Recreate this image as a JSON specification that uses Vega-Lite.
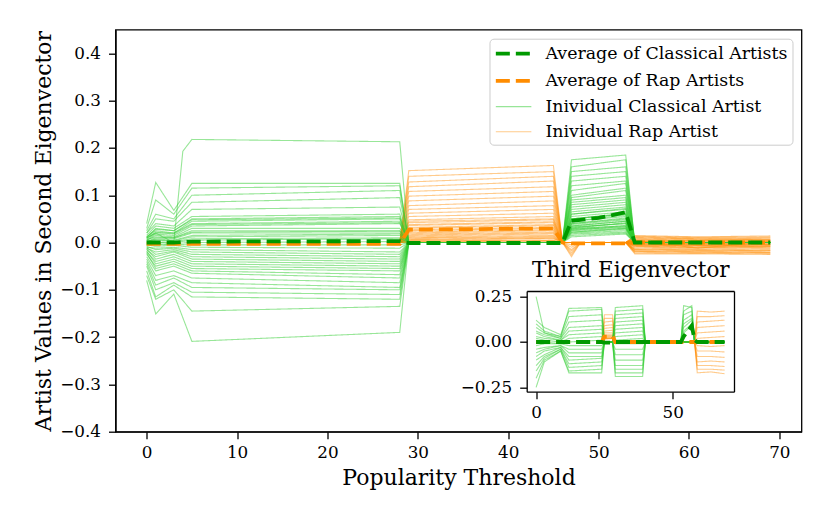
{
  "$schema": "https://vega.github.io/schema/vega-lite/v6.json",
  "autosize": "none",
  "padding": {"left": 115.5, "top": 29.7, "right": 28.3, "bottom": 91.3},
  "width": 686,
  "height": 402,
  "background": "white",
  "config": {
    "font": "DejaVu Serif",
    "view": {"stroke": "black", "strokeWidth": 1.3},
    "axis": {
      "labelFont": "DejaVu Serif", "labelFontSize": 16.8, "labelColor": "black",
      "titleFont": "DejaVu Serif", "titleFontSize": 22, "titleFontWeight": "normal", "titleColor": "black",
      "domainColor": "black", "domainWidth": 1.3, "tickColor": "black", "tickWidth": 1.3, "tickSize": 7,
      "grid": false
    }
  },
  "resolve": {
    "scale": {"x": "independent", "y": "independent"},
    "axis": {"x": "independent", "y": "independent"}
  },
  "encoding": {
    "detail": {"field": "a"},
    "color": {"field": "s", "type": "nominal",
      "scale": {"domain": ["ac", "ar", "ic", "ir"], "range": ["#009900", "#ff8c00", "#32cd32", "#ff8c00"]},
      "legend": {"title": null, "orient": "top-right", "offset": 8.6, "symbolType": "M-1,0H3.1", "symbolSize": 300, "labelFontSize": 17.4, "labelFont": "DejaVu Serif", "labelColor": "black", "labelLimit": 400, "padding": 4, "rowPadding": 7.2, "labelOffset": 30, "strokeColor": "#cccccc", "fillColor": "white", "cornerRadius": 4,
        "labelExpr": "datum.label == 'ac' ? 'Average of Classical Artists' : datum.label == 'ar' ? 'Average of Rap Artists' : datum.label == 'ic' ? 'Inividual Classical Artist' : 'Inividual Rap Artist'"}},
    "strokeDash": {"field": "s", "type": "nominal",
      "scale": {"domain": ["ac", "ar", "ic", "ir"], "range": [[14, 6], [14, 6], [1, 0], [1, 0]]},
      "legend": {"title": null, "orient": "top-right", "offset": 8.6, "symbolType": "M-1,0H3.1", "symbolSize": 300, "labelFontSize": 17.4, "labelFont": "DejaVu Serif", "labelColor": "black", "labelLimit": 400, "padding": 4, "rowPadding": 7.2, "labelOffset": 30, "strokeColor": "#cccccc", "fillColor": "white", "cornerRadius": 4,
        "labelExpr": "datum.label == 'ac' ? 'Average of Classical Artists' : datum.label == 'ar' ? 'Average of Rap Artists' : datum.label == 'ic' ? 'Inividual Classical Artist' : 'Inividual Rap Artist'"}},
    "strokeWidth": {"field": "s", "type": "nominal",
      "scale": {"type": "ordinal", "domain": ["ac", "ar", "ic", "ir"], "range": [3.8, 3.8, 1.1, 1.1]},
      "legend": {"title": null, "orient": "top-right", "offset": 8.6, "symbolType": "M-1,0H3.1", "symbolSize": 300, "labelFontSize": 17.4, "labelFont": "DejaVu Serif", "labelColor": "black", "labelLimit": 400, "padding": 4, "rowPadding": 7.2, "labelOffset": 30, "strokeColor": "#cccccc", "fillColor": "white", "cornerRadius": 4,
        "labelExpr": "datum.label == 'ac' ? 'Average of Classical Artists' : datum.label == 'ar' ? 'Average of Rap Artists' : datum.label == 'ic' ? 'Inividual Classical Artist' : 'Inividual Rap Artist'"}},
    "opacity": {"field": "s", "type": "nominal",
      "scale": {"type": "ordinal", "domain": ["ac", "ar", "ic", "ir"], "range": [1, 1, 0.5, 0.45]},
      "legend": {"title": null, "orient": "top-right", "offset": 8.6, "symbolType": "M-1,0H3.1", "symbolSize": 300, "labelFontSize": 17.4, "labelFont": "DejaVu Serif", "labelColor": "black", "labelLimit": 400, "padding": 4, "rowPadding": 7.2, "labelOffset": 30, "strokeColor": "#cccccc", "fillColor": "white", "cornerRadius": 4,
        "labelExpr": "datum.label == 'ac' ? 'Average of Classical Artists' : datum.label == 'ar' ? 'Average of Rap Artists' : datum.label == 'ic' ? 'Inividual Classical Artist' : 'Inividual Rap Artist'"}}
  },
  "datasets": {
    "m": [
      {"s":"ac","a":0,"x":0,"y":0},{"s":"ac","a":0,"x":3,"y":0},{"s":"ac","a":0,"x":5,"y":0.002},{"s":"ac","a":0,"x":28,"y":0.003},{"s":"ac","a":0,"x":29,"y":-0.001},{"s":"ac","a":0,"x":46,"y":-0.001},{"s":"ac","a":0,"x":47,"y":0.046},{"s":"ac","a":0,"x":50,"y":0.052},{"s":"ac","a":0,"x":53,"y":0.064},{"s":"ac","a":0,"x":54,"y":0},{"s":"ac","a":0,"x":69,"y":0},
      {"s":"ar","a":0,"x":0,"y":-0.003},{"s":"ar","a":0,"x":28,"y":-0.003},{"s":"ar","a":0,"x":29,"y":0.027},{"s":"ar","a":0,"x":45,"y":0.03},{"s":"ar","a":0,"x":46,"y":0},{"s":"ar","a":0,"x":47,"y":-0.002},{"s":"ar","a":0,"x":53,"y":-0.002},{"s":"ar","a":0,"x":54,"y":0},{"s":"ar","a":0,"x":69,"y":0},

      {"s":"ic","a":1,"x":0,"y":0.01},{"s":"ic","a":1,"x":1,"y":0.02},{"s":"ic","a":1,"x":3,"y":0},{"s":"ic","a":1,"x":4,"y":0.193},{"s":"ic","a":1,"x":5,"y":0.218},{"s":"ic","a":1,"x":28,"y":0.213},{"s":"ic","a":1,"x":29,"y":0},{"s":"ic","a":1,"x":46,"y":0},{"s":"ic","a":1,"x":47,"y":0.05},{"s":"ic","a":1,"x":53,"y":0.06},{"s":"ic","a":1,"x":54,"y":0},{"s":"ic","a":1,"x":69,"y":0},
      {"s":"ic","a":2,"x":0,"y":0.04},{"s":"ic","a":2,"x":1,"y":0.127},{"s":"ic","a":2,"x":3,"y":0.068},{"s":"ic","a":2,"x":5,"y":0.125},{"s":"ic","a":2,"x":28,"y":0.125},{"s":"ic","a":2,"x":29,"y":0},{"s":"ic","a":2,"x":46,"y":0},{"s":"ic","a":2,"x":47,"y":0.175},{"s":"ic","a":2,"x":53,"y":0.185},{"s":"ic","a":2,"x":54,"y":0},{"s":"ic","a":2,"x":69,"y":0},
      {"s":"ic","a":3,"x":0,"y":0.03},{"s":"ic","a":3,"x":1,"y":0.09},{"s":"ic","a":3,"x":3,"y":0.06},{"s":"ic","a":3,"x":5,"y":0.115},{"s":"ic","a":3,"x":28,"y":0.12},{"s":"ic","a":3,"x":29,"y":0},{"s":"ic","a":3,"x":46,"y":0},{"s":"ic","a":3,"x":47,"y":0.16},{"s":"ic","a":3,"x":53,"y":0.175},{"s":"ic","a":3,"x":54,"y":0},{"s":"ic","a":3,"x":69,"y":0},
      {"s":"ic","a":4,"x":0,"y":0.025},{"s":"ic","a":4,"x":1,"y":0.06},{"s":"ic","a":4,"x":3,"y":0.05},{"s":"ic","a":4,"x":5,"y":0.1},{"s":"ic","a":4,"x":28,"y":0.11},{"s":"ic","a":4,"x":29,"y":0},{"s":"ic","a":4,"x":46,"y":0},{"s":"ic","a":4,"x":47,"y":0.15},{"s":"ic","a":4,"x":53,"y":0.16},{"s":"ic","a":4,"x":54,"y":0},{"s":"ic","a":4,"x":69,"y":0},
      {"s":"ic","a":5,"x":0,"y":0.02},{"s":"ic","a":5,"x":1,"y":0.05},{"s":"ic","a":5,"x":3,"y":0.045},{"s":"ic","a":5,"x":5,"y":0.085},{"s":"ic","a":5,"x":28,"y":0.095},{"s":"ic","a":5,"x":29,"y":0},{"s":"ic","a":5,"x":46,"y":0},{"s":"ic","a":5,"x":47,"y":0.14},{"s":"ic","a":5,"x":53,"y":0.15},{"s":"ic","a":5,"x":54,"y":0},{"s":"ic","a":5,"x":69,"y":0},
      {"s":"ic","a":6,"x":0,"y":0.02},{"s":"ic","a":6,"x":1,"y":0.04},{"s":"ic","a":6,"x":3,"y":0.035},{"s":"ic","a":6,"x":5,"y":0.07},{"s":"ic","a":6,"x":28,"y":0.075},{"s":"ic","a":6,"x":29,"y":0},{"s":"ic","a":6,"x":46,"y":0},{"s":"ic","a":6,"x":47,"y":0.13},{"s":"ic","a":6,"x":53,"y":0.14},{"s":"ic","a":6,"x":54,"y":0},{"s":"ic","a":6,"x":69,"y":0},
      {"s":"ic","a":7,"x":0,"y":0.015},{"s":"ic","a":7,"x":1,"y":0.035},{"s":"ic","a":7,"x":3,"y":0.03},{"s":"ic","a":7,"x":5,"y":0.055},{"s":"ic","a":7,"x":28,"y":0.06},{"s":"ic","a":7,"x":29,"y":0},{"s":"ic","a":7,"x":46,"y":0},{"s":"ic","a":7,"x":47,"y":0.12},{"s":"ic","a":7,"x":53,"y":0.13},{"s":"ic","a":7,"x":54,"y":0},{"s":"ic","a":7,"x":69,"y":0},
      {"s":"ic","a":8,"x":0,"y":0.01},{"s":"ic","a":8,"x":1,"y":0.03},{"s":"ic","a":8,"x":3,"y":0.025},{"s":"ic","a":8,"x":5,"y":0.05},{"s":"ic","a":8,"x":28,"y":0.055},{"s":"ic","a":8,"x":29,"y":0},{"s":"ic","a":8,"x":46,"y":0},{"s":"ic","a":8,"x":47,"y":0.11},{"s":"ic","a":8,"x":53,"y":0.125},{"s":"ic","a":8,"x":54,"y":0},{"s":"ic","a":8,"x":69,"y":0},
      {"s":"ic","a":9,"x":0,"y":0.012},{"s":"ic","a":9,"x":1,"y":0.025},{"s":"ic","a":9,"x":3,"y":0.02},{"s":"ic","a":9,"x":5,"y":0.045},{"s":"ic","a":9,"x":28,"y":0.05},{"s":"ic","a":9,"x":29,"y":0},{"s":"ic","a":9,"x":46,"y":0},{"s":"ic","a":9,"x":47,"y":0.1},{"s":"ic","a":9,"x":53,"y":0.115},{"s":"ic","a":9,"x":54,"y":0},{"s":"ic","a":9,"x":69,"y":0},
      {"s":"ic","a":10,"x":0,"y":0.008},{"s":"ic","a":10,"x":1,"y":0.02},{"s":"ic","a":10,"x":3,"y":0.02},{"s":"ic","a":10,"x":5,"y":0.04},{"s":"ic","a":10,"x":28,"y":0.045},{"s":"ic","a":10,"x":29,"y":0},{"s":"ic","a":10,"x":46,"y":0},{"s":"ic","a":10,"x":47,"y":0.095},{"s":"ic","a":10,"x":53,"y":0.11},{"s":"ic","a":10,"x":54,"y":0},{"s":"ic","a":10,"x":69,"y":0},
      {"s":"ic","a":11,"x":0,"y":0.005},{"s":"ic","a":11,"x":1,"y":0.018},{"s":"ic","a":11,"x":3,"y":0.015},{"s":"ic","a":11,"x":5,"y":0.035},{"s":"ic","a":11,"x":28,"y":0.04},{"s":"ic","a":11,"x":29,"y":0},{"s":"ic","a":11,"x":46,"y":0},{"s":"ic","a":11,"x":47,"y":0.09},{"s":"ic","a":11,"x":53,"y":0.1},{"s":"ic","a":11,"x":54,"y":0},{"s":"ic","a":11,"x":69,"y":0},
      {"s":"ic","a":12,"x":0,"y":0.004},{"s":"ic","a":12,"x":1,"y":0.015},{"s":"ic","a":12,"x":3,"y":0.012},{"s":"ic","a":12,"x":5,"y":0.03},{"s":"ic","a":12,"x":28,"y":0.03},{"s":"ic","a":12,"x":29,"y":0},{"s":"ic","a":12,"x":46,"y":0},{"s":"ic","a":12,"x":47,"y":0.085},{"s":"ic","a":12,"x":53,"y":0.095},{"s":"ic","a":12,"x":54,"y":0},{"s":"ic","a":12,"x":69,"y":0},
      {"s":"ic","a":13,"x":0,"y":0.002},{"s":"ic","a":13,"x":1,"y":0.01},{"s":"ic","a":13,"x":3,"y":0.01},{"s":"ic","a":13,"x":5,"y":0.025},{"s":"ic","a":13,"x":28,"y":0.025},{"s":"ic","a":13,"x":29,"y":0},{"s":"ic","a":13,"x":46,"y":0},{"s":"ic","a":13,"x":47,"y":0.08},{"s":"ic","a":13,"x":53,"y":0.09},{"s":"ic","a":13,"x":54,"y":0},{"s":"ic","a":13,"x":69,"y":0},
      {"s":"ic","a":14,"x":0,"y":0},{"s":"ic","a":14,"x":1,"y":0.008},{"s":"ic","a":14,"x":3,"y":0.008},{"s":"ic","a":14,"x":5,"y":0.02},{"s":"ic","a":14,"x":28,"y":0.02},{"s":"ic","a":14,"x":29,"y":0},{"s":"ic","a":14,"x":46,"y":0},{"s":"ic","a":14,"x":47,"y":0.075},{"s":"ic","a":14,"x":53,"y":0.085},{"s":"ic","a":14,"x":54,"y":0},{"s":"ic","a":14,"x":69,"y":0},
      {"s":"ic","a":15,"x":0,"y":-0.002},{"s":"ic","a":15,"x":1,"y":0.005},{"s":"ic","a":15,"x":3,"y":0.004},{"s":"ic","a":15,"x":5,"y":0.012},{"s":"ic","a":15,"x":28,"y":0.015},{"s":"ic","a":15,"x":29,"y":0},{"s":"ic","a":15,"x":46,"y":0},{"s":"ic","a":15,"x":47,"y":0.07},{"s":"ic","a":15,"x":53,"y":0.08},{"s":"ic","a":15,"x":54,"y":0},{"s":"ic","a":15,"x":69,"y":0},
      {"s":"ic","a":16,"x":0,"y":-0.004},{"s":"ic","a":16,"x":1,"y":0},{"s":"ic","a":16,"x":3,"y":0},{"s":"ic","a":16,"x":5,"y":0.005},{"s":"ic","a":16,"x":28,"y":0.008},{"s":"ic","a":16,"x":29,"y":0},{"s":"ic","a":16,"x":46,"y":0},{"s":"ic","a":16,"x":47,"y":0.065},{"s":"ic","a":16,"x":53,"y":0.075},{"s":"ic","a":16,"x":54,"y":0},{"s":"ic","a":16,"x":69,"y":0},
      {"s":"ic","a":17,"x":0,"y":-0.006},{"s":"ic","a":17,"x":1,"y":-0.005},{"s":"ic","a":17,"x":3,"y":-0.004},{"s":"ic","a":17,"x":5,"y":-0.005},{"s":"ic","a":17,"x":28,"y":-0.005},{"s":"ic","a":17,"x":29,"y":0},{"s":"ic","a":17,"x":46,"y":0},{"s":"ic","a":17,"x":47,"y":0.06},{"s":"ic","a":17,"x":53,"y":0.07},{"s":"ic","a":17,"x":54,"y":0},{"s":"ic","a":17,"x":69,"y":0},
      {"s":"ic","a":18,"x":0,"y":-0.01},{"s":"ic","a":18,"x":1,"y":-0.012},{"s":"ic","a":18,"x":3,"y":-0.01},{"s":"ic","a":18,"x":5,"y":-0.015},{"s":"ic","a":18,"x":28,"y":-0.02},{"s":"ic","a":18,"x":29,"y":0},{"s":"ic","a":18,"x":46,"y":0},{"s":"ic","a":18,"x":47,"y":0.055},{"s":"ic","a":18,"x":53,"y":0.065},{"s":"ic","a":18,"x":54,"y":0},{"s":"ic","a":18,"x":69,"y":0},
      {"s":"ic","a":19,"x":0,"y":-0.012},{"s":"ic","a":19,"x":1,"y":-0.02},{"s":"ic","a":19,"x":3,"y":-0.015},{"s":"ic","a":19,"x":5,"y":-0.025},{"s":"ic","a":19,"x":28,"y":-0.03},{"s":"ic","a":19,"x":29,"y":0},{"s":"ic","a":19,"x":46,"y":0},{"s":"ic","a":19,"x":47,"y":0.045},{"s":"ic","a":19,"x":53,"y":0.055},{"s":"ic","a":19,"x":54,"y":0},{"s":"ic","a":19,"x":69,"y":0},
      {"s":"ic","a":20,"x":0,"y":-0.015},{"s":"ic","a":20,"x":1,"y":-0.03},{"s":"ic","a":20,"x":3,"y":-0.02},{"s":"ic","a":20,"x":5,"y":-0.035},{"s":"ic","a":20,"x":28,"y":-0.04},{"s":"ic","a":20,"x":29,"y":0},{"s":"ic","a":20,"x":46,"y":0},{"s":"ic","a":20,"x":47,"y":0.04},{"s":"ic","a":20,"x":53,"y":0.05},{"s":"ic","a":20,"x":54,"y":0},{"s":"ic","a":20,"x":69,"y":0},
      {"s":"ic","a":21,"x":0,"y":-0.02},{"s":"ic","a":21,"x":1,"y":-0.04},{"s":"ic","a":21,"x":3,"y":-0.03},{"s":"ic","a":21,"x":5,"y":-0.045},{"s":"ic","a":21,"x":28,"y":-0.05},{"s":"ic","a":21,"x":29,"y":0},{"s":"ic","a":21,"x":46,"y":0},{"s":"ic","a":21,"x":47,"y":0.035},{"s":"ic","a":21,"x":53,"y":0.045},{"s":"ic","a":21,"x":54,"y":0},{"s":"ic","a":21,"x":69,"y":0},
      {"s":"ic","a":22,"x":0,"y":-0.025},{"s":"ic","a":22,"x":1,"y":-0.05},{"s":"ic","a":22,"x":3,"y":-0.04},{"s":"ic","a":22,"x":5,"y":-0.055},{"s":"ic","a":22,"x":28,"y":-0.06},{"s":"ic","a":22,"x":29,"y":0},{"s":"ic","a":22,"x":46,"y":0},{"s":"ic","a":22,"x":47,"y":0.032},{"s":"ic","a":22,"x":53,"y":0.04},{"s":"ic","a":22,"x":54,"y":0},{"s":"ic","a":22,"x":69,"y":0},
      {"s":"ic","a":23,"x":0,"y":-0.03},{"s":"ic","a":23,"x":1,"y":-0.06},{"s":"ic","a":23,"x":3,"y":-0.05},{"s":"ic","a":23,"x":5,"y":-0.065},{"s":"ic","a":23,"x":28,"y":-0.075},{"s":"ic","a":23,"x":29,"y":0},{"s":"ic","a":23,"x":46,"y":0},{"s":"ic","a":23,"x":47,"y":0.03},{"s":"ic","a":23,"x":53,"y":0.035},{"s":"ic","a":23,"x":54,"y":0},{"s":"ic","a":23,"x":69,"y":0},
      {"s":"ic","a":24,"x":0,"y":-0.035},{"s":"ic","a":24,"x":1,"y":-0.07},{"s":"ic","a":24,"x":3,"y":-0.06},{"s":"ic","a":24,"x":5,"y":-0.075},{"s":"ic","a":24,"x":28,"y":-0.085},{"s":"ic","a":24,"x":29,"y":0},{"s":"ic","a":24,"x":46,"y":0},{"s":"ic","a":24,"x":47,"y":0.028},{"s":"ic","a":24,"x":53,"y":0.032},{"s":"ic","a":24,"x":54,"y":0},{"s":"ic","a":24,"x":69,"y":0},
      {"s":"ic","a":25,"x":0,"y":-0.04},{"s":"ic","a":25,"x":1,"y":-0.08},{"s":"ic","a":25,"x":3,"y":-0.07},{"s":"ic","a":25,"x":5,"y":-0.085},{"s":"ic","a":25,"x":28,"y":-0.095},{"s":"ic","a":25,"x":29,"y":0},{"s":"ic","a":25,"x":46,"y":0},{"s":"ic","a":25,"x":47,"y":0.025},{"s":"ic","a":25,"x":53,"y":0.03},{"s":"ic","a":25,"x":54,"y":0},{"s":"ic","a":25,"x":69,"y":0},
      {"s":"ic","a":26,"x":0,"y":-0.045},{"s":"ic","a":26,"x":1,"y":-0.09},{"s":"ic","a":26,"x":3,"y":-0.075},{"s":"ic","a":26,"x":5,"y":-0.095},{"s":"ic","a":26,"x":28,"y":-0.1},{"s":"ic","a":26,"x":29,"y":0},{"s":"ic","a":26,"x":46,"y":0},{"s":"ic","a":26,"x":47,"y":0.022},{"s":"ic","a":26,"x":53,"y":0.028},{"s":"ic","a":26,"x":54,"y":0},{"s":"ic","a":26,"x":69,"y":0},
      {"s":"ic","a":27,"x":0,"y":-0.05},{"s":"ic","a":27,"x":1,"y":-0.1},{"s":"ic","a":27,"x":3,"y":-0.085},{"s":"ic","a":27,"x":5,"y":-0.105},{"s":"ic","a":27,"x":28,"y":-0.11},{"s":"ic","a":27,"x":29,"y":0},{"s":"ic","a":27,"x":46,"y":0},{"s":"ic","a":27,"x":47,"y":0.02},{"s":"ic","a":27,"x":53,"y":0.025},{"s":"ic","a":27,"x":54,"y":0},{"s":"ic","a":27,"x":69,"y":0},
      {"s":"ic","a":28,"x":0,"y":-0.06},{"s":"ic","a":28,"x":1,"y":-0.115},{"s":"ic","a":28,"x":3,"y":-0.09},{"s":"ic","a":28,"x":5,"y":-0.115},{"s":"ic","a":28,"x":28,"y":-0.12},{"s":"ic","a":28,"x":29,"y":0},{"s":"ic","a":28,"x":46,"y":0},{"s":"ic","a":28,"x":47,"y":0.018},{"s":"ic","a":28,"x":53,"y":0.022},{"s":"ic","a":28,"x":54,"y":0},{"s":"ic","a":28,"x":69,"y":0},
      {"s":"ic","a":29,"x":0,"y":-0.07},{"s":"ic","a":29,"x":1,"y":-0.12},{"s":"ic","a":29,"x":3,"y":-0.1},{"s":"ic","a":29,"x":5,"y":-0.145},{"s":"ic","a":29,"x":28,"y":-0.135},{"s":"ic","a":29,"x":29,"y":0},{"s":"ic","a":29,"x":46,"y":0},{"s":"ic","a":29,"x":47,"y":0.015},{"s":"ic","a":29,"x":53,"y":0.02},{"s":"ic","a":29,"x":54,"y":0},{"s":"ic","a":29,"x":69,"y":0},
      {"s":"ic","a":30,"x":0,"y":-0.08},{"s":"ic","a":30,"x":1,"y":-0.151},{"s":"ic","a":30,"x":3,"y":-0.109},{"s":"ic","a":30,"x":5,"y":-0.209},{"s":"ic","a":30,"x":28,"y":-0.19},{"s":"ic","a":30,"x":29,"y":0},{"s":"ic","a":30,"x":46,"y":0},{"s":"ic","a":30,"x":47,"y":0.012},{"s":"ic","a":30,"x":53,"y":0.018},{"s":"ic","a":30,"x":54,"y":0},{"s":"ic","a":30,"x":69,"y":0},
      {"s":"ic","a":31,"x":0,"y":0.006},{"s":"ic","a":31,"x":1,"y":0.012},{"s":"ic","a":31,"x":3,"y":0.01},{"s":"ic","a":31,"x":5,"y":0.022},{"s":"ic","a":31,"x":28,"y":0.024},{"s":"ic","a":31,"x":29,"y":0},{"s":"ic","a":31,"x":46,"y":0},{"s":"ic","a":31,"x":47,"y":0.05},{"s":"ic","a":31,"x":53,"y":0.062},{"s":"ic","a":31,"x":54,"y":0},{"s":"ic","a":31,"x":69,"y":0},
      {"s":"ic","a":32,"x":0,"y":0.003},{"s":"ic","a":32,"x":1,"y":0.006},{"s":"ic","a":32,"x":3,"y":0.005},{"s":"ic","a":32,"x":5,"y":0.015},{"s":"ic","a":32,"x":28,"y":0.018},{"s":"ic","a":32,"x":29,"y":0},{"s":"ic","a":32,"x":46,"y":0},{"s":"ic","a":32,"x":47,"y":0.04},{"s":"ic","a":32,"x":53,"y":0.052},{"s":"ic","a":32,"x":54,"y":0},{"s":"ic","a":32,"x":69,"y":0},
      {"s":"ic","a":33,"x":0,"y":0.001},{"s":"ic","a":33,"x":1,"y":0},{"s":"ic","a":33,"x":3,"y":0.002},{"s":"ic","a":33,"x":5,"y":0.008},{"s":"ic","a":33,"x":28,"y":0.01},{"s":"ic","a":33,"x":29,"y":0},{"s":"ic","a":33,"x":46,"y":0},{"s":"ic","a":33,"x":47,"y":0.03},{"s":"ic","a":33,"x":53,"y":0.042},{"s":"ic","a":33,"x":54,"y":0},{"s":"ic","a":33,"x":69,"y":0},
      {"s":"ic","a":34,"x":0,"y":-0.003},{"s":"ic","a":34,"x":1,"y":-0.004},{"s":"ic","a":34,"x":3,"y":-0.002},{"s":"ic","a":34,"x":5,"y":0},{"s":"ic","a":34,"x":28,"y":0.002},{"s":"ic","a":34,"x":29,"y":0},{"s":"ic","a":34,"x":46,"y":0},{"s":"ic","a":34,"x":47,"y":0.026},{"s":"ic","a":34,"x":53,"y":0.034},{"s":"ic","a":34,"x":54,"y":0},{"s":"ic","a":34,"x":69,"y":0},
      {"s":"ic","a":35,"x":0,"y":-0.005},{"s":"ic","a":35,"x":1,"y":-0.008},{"s":"ic","a":35,"x":3,"y":-0.006},{"s":"ic","a":35,"x":5,"y":-0.01},{"s":"ic","a":35,"x":28,"y":-0.012},{"s":"ic","a":35,"x":29,"y":0},{"s":"ic","a":35,"x":46,"y":0},{"s":"ic","a":35,"x":47,"y":0.022},{"s":"ic","a":35,"x":53,"y":0.03},{"s":"ic","a":35,"x":54,"y":0},{"s":"ic","a":35,"x":69,"y":0},
      {"s":"ic","a":36,"x":0,"y":-0.008},{"s":"ic","a":36,"x":1,"y":-0.015},{"s":"ic","a":36,"x":3,"y":-0.012},{"s":"ic","a":36,"x":5,"y":-0.02},{"s":"ic","a":36,"x":28,"y":-0.025},{"s":"ic","a":36,"x":29,"y":0},{"s":"ic","a":36,"x":46,"y":0},{"s":"ic","a":36,"x":47,"y":0.035},{"s":"ic","a":36,"x":53,"y":0.045},{"s":"ic","a":36,"x":54,"y":0},{"s":"ic","a":36,"x":69,"y":0},
      {"s":"ic","a":37,"x":0,"y":-0.011},{"s":"ic","a":37,"x":1,"y":-0.025},{"s":"ic","a":37,"x":3,"y":-0.018},{"s":"ic","a":37,"x":5,"y":-0.03},{"s":"ic","a":37,"x":28,"y":-0.035},{"s":"ic","a":37,"x":29,"y":0},{"s":"ic","a":37,"x":46,"y":0},{"s":"ic","a":37,"x":47,"y":0.045},{"s":"ic","a":37,"x":53,"y":0.058},{"s":"ic","a":37,"x":54,"y":0},{"s":"ic","a":37,"x":69,"y":0},
      {"s":"ic","a":38,"x":0,"y":-0.014},{"s":"ic","a":38,"x":1,"y":-0.035},{"s":"ic","a":38,"x":3,"y":-0.025},{"s":"ic","a":38,"x":5,"y":-0.04},{"s":"ic","a":38,"x":28,"y":-0.045},{"s":"ic","a":38,"x":29,"y":0},{"s":"ic","a":38,"x":46,"y":0},{"s":"ic","a":38,"x":47,"y":0.06},{"s":"ic","a":38,"x":53,"y":0.072},{"s":"ic","a":38,"x":54,"y":0},{"s":"ic","a":38,"x":69,"y":0},
      {"s":"ic","a":39,"x":0,"y":-0.018},{"s":"ic","a":39,"x":1,"y":-0.045},{"s":"ic","a":39,"x":3,"y":-0.035},{"s":"ic","a":39,"x":5,"y":-0.05},{"s":"ic","a":39,"x":28,"y":-0.055},{"s":"ic","a":39,"x":29,"y":0},{"s":"ic","a":39,"x":46,"y":0},{"s":"ic","a":39,"x":47,"y":0.028},{"s":"ic","a":39,"x":53,"y":0.036},{"s":"ic","a":39,"x":54,"y":0},{"s":"ic","a":39,"x":69,"y":0},
      {"s":"ic","a":40,"x":0,"y":0.009},{"s":"ic","a":40,"x":1,"y":0.022},{"s":"ic","a":40,"x":3,"y":0.018},{"s":"ic","a":40,"x":5,"y":0.038},{"s":"ic","a":40,"x":28,"y":0.042},{"s":"ic","a":40,"x":29,"y":0},{"s":"ic","a":40,"x":46,"y":0},{"s":"ic","a":40,"x":47,"y":0.038},{"s":"ic","a":40,"x":53,"y":0.048},{"s":"ic","a":40,"x":54,"y":0},{"s":"ic","a":40,"x":69,"y":0},
      {"s":"ic","a":41,"x":0,"y":0.012},{"s":"ic","a":41,"x":1,"y":0.028},{"s":"ic","a":41,"x":3,"y":0.025},{"s":"ic","a":41,"x":5,"y":0.048},{"s":"ic","a":41,"x":28,"y":0.052},{"s":"ic","a":41,"x":29,"y":0},{"s":"ic","a":41,"x":46,"y":0},{"s":"ic","a":41,"x":47,"y":0.05},{"s":"ic","a":41,"x":53,"y":0.06},{"s":"ic","a":41,"x":54,"y":0},{"s":"ic","a":41,"x":69,"y":0},
      {"s":"ic","a":42,"x":0,"y":-0.022},{"s":"ic","a":42,"x":1,"y":-0.055},{"s":"ic","a":42,"x":3,"y":-0.045},{"s":"ic","a":42,"x":5,"y":-0.06},{"s":"ic","a":42,"x":28,"y":-0.068},{"s":"ic","a":42,"x":29,"y":0},{"s":"ic","a":42,"x":46,"y":0},{"s":"ic","a":42,"x":47,"y":0.033},{"s":"ic","a":42,"x":53,"y":0.04},{"s":"ic","a":42,"x":54,"y":0},{"s":"ic","a":42,"x":69,"y":0},

      {"s":"ir","a":1,"x":28,"y":0},{"s":"ir","a":1,"x":29,"y":0.152},{"s":"ir","a":1,"x":45,"y":0.163},{"s":"ir","a":1,"x":46,"y":0},{"s":"ir","a":1,"x":53,"y":0},{"s":"ir","a":1,"x":54,"y":0.015},{"s":"ir","a":1,"x":61,"y":0.012},{"s":"ir","a":1,"x":69,"y":0.014},
      {"s":"ir","a":2,"x":28,"y":0},{"s":"ir","a":2,"x":29,"y":0.14},{"s":"ir","a":2,"x":45,"y":0.15},{"s":"ir","a":2,"x":46,"y":0},{"s":"ir","a":2,"x":53,"y":0},{"s":"ir","a":2,"x":54,"y":0.012},{"s":"ir","a":2,"x":61,"y":0.01},{"s":"ir","a":2,"x":69,"y":0.01},
      {"s":"ir","a":3,"x":28,"y":0},{"s":"ir","a":3,"x":29,"y":0.128},{"s":"ir","a":3,"x":45,"y":0.14},{"s":"ir","a":3,"x":46,"y":0},{"s":"ir","a":3,"x":47,"y":-0.03},{"s":"ir","a":3,"x":48,"y":0},{"s":"ir","a":3,"x":53,"y":0},{"s":"ir","a":3,"x":54,"y":0.01},{"s":"ir","a":3,"x":61,"y":0.008},{"s":"ir","a":3,"x":69,"y":0.009},
      {"s":"ir","a":4,"x":28,"y":0},{"s":"ir","a":4,"x":29,"y":0.118},{"s":"ir","a":4,"x":45,"y":0.13},{"s":"ir","a":4,"x":46,"y":0},{"s":"ir","a":4,"x":53,"y":0},{"s":"ir","a":4,"x":54,"y":0.008},{"s":"ir","a":4,"x":61,"y":0.006},{"s":"ir","a":4,"x":69,"y":0.007},
      {"s":"ir","a":5,"x":28,"y":0},{"s":"ir","a":5,"x":29,"y":0.108},{"s":"ir","a":5,"x":45,"y":0.118},{"s":"ir","a":5,"x":46,"y":0},{"s":"ir","a":5,"x":53,"y":0},{"s":"ir","a":5,"x":54,"y":0.006},{"s":"ir","a":5,"x":61,"y":0.005},{"s":"ir","a":5,"x":69,"y":0.005},
      {"s":"ir","a":6,"x":28,"y":0},{"s":"ir","a":6,"x":29,"y":0.098},{"s":"ir","a":6,"x":45,"y":0.108},{"s":"ir","a":6,"x":46,"y":0},{"s":"ir","a":6,"x":47,"y":-0.022},{"s":"ir","a":6,"x":48,"y":0},{"s":"ir","a":6,"x":53,"y":0},{"s":"ir","a":6,"x":54,"y":0.004},{"s":"ir","a":6,"x":61,"y":0.004},{"s":"ir","a":6,"x":69,"y":0.003},
      {"s":"ir","a":7,"x":28,"y":0},{"s":"ir","a":7,"x":29,"y":0.088},{"s":"ir","a":7,"x":45,"y":0.098},{"s":"ir","a":7,"x":46,"y":0},{"s":"ir","a":7,"x":53,"y":0},{"s":"ir","a":7,"x":54,"y":0.003},{"s":"ir","a":7,"x":61,"y":0.002},{"s":"ir","a":7,"x":69,"y":0.002},
      {"s":"ir","a":8,"x":28,"y":0},{"s":"ir","a":8,"x":29,"y":0.078},{"s":"ir","a":8,"x":45,"y":0.088},{"s":"ir","a":8,"x":46,"y":0},{"s":"ir","a":8,"x":53,"y":0},{"s":"ir","a":8,"x":54,"y":0.002},{"s":"ir","a":8,"x":61,"y":0},{"s":"ir","a":8,"x":69,"y":0},
      {"s":"ir","a":9,"x":28,"y":0},{"s":"ir","a":9,"x":29,"y":0.07},{"s":"ir","a":9,"x":45,"y":0.078},{"s":"ir","a":9,"x":46,"y":0},{"s":"ir","a":9,"x":47,"y":-0.015},{"s":"ir","a":9,"x":48,"y":0},{"s":"ir","a":9,"x":53,"y":0},{"s":"ir","a":9,"x":54,"y":0},{"s":"ir","a":9,"x":61,"y":-0.001},{"s":"ir","a":9,"x":69,"y":-0.001},
      {"s":"ir","a":10,"x":28,"y":0},{"s":"ir","a":10,"x":29,"y":0.062},{"s":"ir","a":10,"x":45,"y":0.07},{"s":"ir","a":10,"x":46,"y":0},{"s":"ir","a":10,"x":53,"y":0},{"s":"ir","a":10,"x":54,"y":-0.001},{"s":"ir","a":10,"x":61,"y":-0.002},{"s":"ir","a":10,"x":69,"y":-0.003},
      {"s":"ir","a":11,"x":28,"y":0},{"s":"ir","a":11,"x":29,"y":0.055},{"s":"ir","a":11,"x":45,"y":0.062},{"s":"ir","a":11,"x":46,"y":0},{"s":"ir","a":11,"x":53,"y":0},{"s":"ir","a":11,"x":54,"y":-0.002},{"s":"ir","a":11,"x":61,"y":-0.003},{"s":"ir","a":11,"x":69,"y":-0.004},
      {"s":"ir","a":12,"x":28,"y":0},{"s":"ir","a":12,"x":29,"y":0.048},{"s":"ir","a":12,"x":45,"y":0.055},{"s":"ir","a":12,"x":46,"y":0},{"s":"ir","a":12,"x":47,"y":-0.01},{"s":"ir","a":12,"x":48,"y":0},{"s":"ir","a":12,"x":53,"y":0},{"s":"ir","a":12,"x":54,"y":-0.003},{"s":"ir","a":12,"x":61,"y":-0.004},{"s":"ir","a":12,"x":69,"y":-0.005},
      {"s":"ir","a":13,"x":28,"y":0},{"s":"ir","a":13,"x":29,"y":0.042},{"s":"ir","a":13,"x":45,"y":0.048},{"s":"ir","a":13,"x":46,"y":0},{"s":"ir","a":13,"x":53,"y":0},{"s":"ir","a":13,"x":54,"y":-0.004},{"s":"ir","a":13,"x":61,"y":-0.005},{"s":"ir","a":13,"x":69,"y":-0.006},
      {"s":"ir","a":14,"x":28,"y":0},{"s":"ir","a":14,"x":29,"y":0.036},{"s":"ir","a":14,"x":45,"y":0.042},{"s":"ir","a":14,"x":46,"y":0},{"s":"ir","a":14,"x":53,"y":0},{"s":"ir","a":14,"x":54,"y":-0.005},{"s":"ir","a":14,"x":61,"y":-0.006},{"s":"ir","a":14,"x":69,"y":-0.007},
      {"s":"ir","a":15,"x":28,"y":0},{"s":"ir","a":15,"x":29,"y":0.03},{"s":"ir","a":15,"x":45,"y":0.036},{"s":"ir","a":15,"x":46,"y":0},{"s":"ir","a":15,"x":47,"y":-0.005},{"s":"ir","a":15,"x":48,"y":0},{"s":"ir","a":15,"x":53,"y":0},{"s":"ir","a":15,"x":54,"y":-0.006},{"s":"ir","a":15,"x":61,"y":-0.008},{"s":"ir","a":15,"x":69,"y":-0.009},
      {"s":"ir","a":16,"x":28,"y":0},{"s":"ir","a":16,"x":29,"y":0.025},{"s":"ir","a":16,"x":45,"y":0.03},{"s":"ir","a":16,"x":46,"y":0},{"s":"ir","a":16,"x":53,"y":0},{"s":"ir","a":16,"x":54,"y":-0.008},{"s":"ir","a":16,"x":61,"y":-0.01},{"s":"ir","a":16,"x":69,"y":-0.01},
      {"s":"ir","a":17,"x":28,"y":0},{"s":"ir","a":17,"x":29,"y":0.02},{"s":"ir","a":17,"x":45,"y":0.025},{"s":"ir","a":17,"x":46,"y":0},{"s":"ir","a":17,"x":53,"y":0},{"s":"ir","a":17,"x":54,"y":-0.01},{"s":"ir","a":17,"x":61,"y":-0.011},{"s":"ir","a":17,"x":69,"y":-0.012},
      {"s":"ir","a":18,"x":28,"y":0},{"s":"ir","a":18,"x":29,"y":0.016},{"s":"ir","a":18,"x":45,"y":0.02},{"s":"ir","a":18,"x":46,"y":0},{"s":"ir","a":18,"x":53,"y":0},{"s":"ir","a":18,"x":54,"y":-0.012},{"s":"ir","a":18,"x":61,"y":-0.013},{"s":"ir","a":18,"x":69,"y":-0.014},
      {"s":"ir","a":19,"x":28,"y":0},{"s":"ir","a":19,"x":29,"y":0.012},{"s":"ir","a":19,"x":45,"y":0.015},{"s":"ir","a":19,"x":46,"y":0},{"s":"ir","a":19,"x":53,"y":0},{"s":"ir","a":19,"x":54,"y":-0.014},{"s":"ir","a":19,"x":61,"y":-0.015},{"s":"ir","a":19,"x":69,"y":-0.016},
      {"s":"ir","a":20,"x":28,"y":0},{"s":"ir","a":20,"x":29,"y":0.009},{"s":"ir","a":20,"x":45,"y":0.011},{"s":"ir","a":20,"x":46,"y":0},{"s":"ir","a":20,"x":53,"y":0},{"s":"ir","a":20,"x":54,"y":-0.016},{"s":"ir","a":20,"x":61,"y":-0.017},{"s":"ir","a":20,"x":69,"y":-0.018},
      {"s":"ir","a":21,"x":28,"y":0},{"s":"ir","a":21,"x":29,"y":0.006},{"s":"ir","a":21,"x":45,"y":0.008},{"s":"ir","a":21,"x":46,"y":0},{"s":"ir","a":21,"x":53,"y":0},{"s":"ir","a":21,"x":54,"y":-0.018},{"s":"ir","a":21,"x":61,"y":-0.019},{"s":"ir","a":21,"x":69,"y":-0.02},
      {"s":"ir","a":22,"x":28,"y":0},{"s":"ir","a":22,"x":29,"y":0.004},{"s":"ir","a":22,"x":45,"y":0.005},{"s":"ir","a":22,"x":46,"y":0},{"s":"ir","a":22,"x":53,"y":0},{"s":"ir","a":22,"x":54,"y":-0.02},{"s":"ir","a":22,"x":61,"y":-0.021},{"s":"ir","a":22,"x":69,"y":-0.022},
      {"s":"ir","a":23,"x":28,"y":0},{"s":"ir","a":23,"x":29,"y":0.002},{"s":"ir","a":23,"x":45,"y":0.003},{"s":"ir","a":23,"x":46,"y":0},{"s":"ir","a":23,"x":53,"y":0},{"s":"ir","a":23,"x":54,"y":-0.022},{"s":"ir","a":23,"x":61,"y":-0.023},{"s":"ir","a":23,"x":69,"y":-0.024},
      {"s":"ir","a":24,"x":28,"y":0},{"s":"ir","a":24,"x":29,"y":0.001},{"s":"ir","a":24,"x":45,"y":0.001},{"s":"ir","a":24,"x":46,"y":0},{"s":"ir","a":24,"x":53,"y":0},{"s":"ir","a":24,"x":54,"y":-0.024},{"s":"ir","a":24,"x":61,"y":-0.024},{"s":"ir","a":24,"x":69,"y":-0.025},
      {"s":"ir","a":25,"x":28,"y":0},{"s":"ir","a":25,"x":29,"y":0},{"s":"ir","a":25,"x":45,"y":0},{"s":"ir","a":25,"x":46,"y":0},{"s":"ir","a":25,"x":53,"y":0},{"s":"ir","a":25,"x":54,"y":0.005},{"s":"ir","a":25,"x":61,"y":-0.012},{"s":"ir","a":25,"x":69,"y":0.002},
      {"s":"ir","a":26,"x":28,"y":0},{"s":"ir","a":26,"x":29,"y":0.045},{"s":"ir","a":26,"x":45,"y":0.05},{"s":"ir","a":26,"x":46,"y":0},{"s":"ir","a":26,"x":53,"y":0},{"s":"ir","a":26,"x":54,"y":0.01},{"s":"ir","a":26,"x":61,"y":0.008},{"s":"ir","a":26,"x":69,"y":0.006},
      {"s":"ir","a":27,"x":28,"y":0},{"s":"ir","a":27,"x":29,"y":0.038},{"s":"ir","a":27,"x":45,"y":0.044},{"s":"ir","a":27,"x":46,"y":0},{"s":"ir","a":27,"x":47,"y":-0.026},{"s":"ir","a":27,"x":48,"y":0},{"s":"ir","a":27,"x":53,"y":0},{"s":"ir","a":27,"x":54,"y":-0.003},{"s":"ir","a":27,"x":61,"y":-0.006},{"s":"ir","a":27,"x":69,"y":-0.004},
      {"s":"ir","a":28,"x":28,"y":0},{"s":"ir","a":28,"x":29,"y":0.032},{"s":"ir","a":28,"x":45,"y":0.038},{"s":"ir","a":28,"x":46,"y":0},{"s":"ir","a":28,"x":53,"y":0},{"s":"ir","a":28,"x":54,"y":0.006},{"s":"ir","a":28,"x":61,"y":0.004},{"s":"ir","a":28,"x":69,"y":0.005},
      {"s":"ir","a":29,"x":28,"y":0},{"s":"ir","a":29,"x":29,"y":0.027},{"s":"ir","a":29,"x":45,"y":0.032},{"s":"ir","a":29,"x":46,"y":0},{"s":"ir","a":29,"x":53,"y":0},{"s":"ir","a":29,"x":54,"y":-0.008},{"s":"ir","a":29,"x":61,"y":-0.01},{"s":"ir","a":29,"x":69,"y":-0.009},
      {"s":"ir","a":30,"x":28,"y":0},{"s":"ir","a":30,"x":29,"y":0.022},{"s":"ir","a":30,"x":45,"y":0.027},{"s":"ir","a":30,"x":46,"y":0},{"s":"ir","a":30,"x":53,"y":0},{"s":"ir","a":30,"x":54,"y":0},{"s":"ir","a":30,"x":61,"y":-0.002},{"s":"ir","a":30,"x":69,"y":-0.001},
      {"s":"ir","a":31,"x":28,"y":0},{"s":"ir","a":31,"x":29,"y":0.018},{"s":"ir","a":31,"x":45,"y":0.022},{"s":"ir","a":31,"x":46,"y":0},{"s":"ir","a":31,"x":47,"y":-0.018},{"s":"ir","a":31,"x":48,"y":0},{"s":"ir","a":31,"x":53,"y":0},{"s":"ir","a":31,"x":54,"y":-0.015},{"s":"ir","a":31,"x":61,"y":-0.016},{"s":"ir","a":31,"x":69,"y":-0.017},
      {"s":"ir","a":32,"x":28,"y":0},{"s":"ir","a":32,"x":29,"y":0.014},{"s":"ir","a":32,"x":45,"y":0.018},{"s":"ir","a":32,"x":46,"y":0},{"s":"ir","a":32,"x":53,"y":0},{"s":"ir","a":32,"x":54,"y":0.002},{"s":"ir","a":32,"x":61,"y":0.001},{"s":"ir","a":32,"x":69,"y":0.003},
      {"s":"ir","a":33,"x":28,"y":0},{"s":"ir","a":33,"x":29,"y":0.01},{"s":"ir","a":33,"x":45,"y":0.013},{"s":"ir","a":33,"x":46,"y":0},{"s":"ir","a":33,"x":53,"y":0},{"s":"ir","a":33,"x":54,"y":-0.019},{"s":"ir","a":33,"x":61,"y":-0.02},{"s":"ir","a":33,"x":69,"y":-0.021},
      {"s":"ir","a":34,"x":28,"y":0},{"s":"ir","a":34,"x":29,"y":0.007},{"s":"ir","a":34,"x":45,"y":0.009},{"s":"ir","a":34,"x":46,"y":0},{"s":"ir","a":34,"x":53,"y":0},{"s":"ir","a":34,"x":54,"y":-0.006},{"s":"ir","a":34,"x":61,"y":-0.007},{"s":"ir","a":34,"x":69,"y":-0.008},
      {"s":"ir","a":35,"x":28,"y":0},{"s":"ir","a":35,"x":29,"y":0.003},{"s":"ir","a":35,"x":45,"y":0.004},{"s":"ir","a":35,"x":46,"y":0},{"s":"ir","a":35,"x":53,"y":0},{"s":"ir","a":35,"x":54,"y":0.013},{"s":"ir","a":35,"x":61,"y":0.011},{"s":"ir","a":35,"x":69,"y":0.012}
    ],
    "t": [
      {"s":"ac","a":0,"x":0,"y":0},{"s":"ac","a":0,"x":24,"y":0},{"s":"ac","a":0,"x":25,"y":-0.003},{"s":"ac","a":0,"x":28,"y":-0.003},{"s":"ac","a":0,"x":29,"y":0},{"s":"ac","a":0,"x":53,"y":0},{"s":"ac","a":0,"x":54,"y":0.03},{"s":"ac","a":0,"x":56,"y":0.07},{"s":"ac","a":0,"x":57,"y":0.09},{"s":"ac","a":0,"x":58,"y":0.01},{"s":"ac","a":0,"x":59,"y":0},{"s":"ac","a":0,"x":69,"y":0},
      {"s":"ar","a":0,"x":0,"y":0},{"s":"ar","a":0,"x":24,"y":0},{"s":"ar","a":0,"x":25,"y":0.03},{"s":"ar","a":0,"x":28,"y":0.03},{"s":"ar","a":0,"x":29,"y":0},{"s":"ar","a":0,"x":69,"y":0},

      {"s":"ic","a":1,"x":0,"y":0.25},{"s":"ic","a":1,"x":3,"y":0.05},{"s":"ic","a":1,"x":9,"y":0.03},{"s":"ic","a":1,"x":12,"y":0.185},{"s":"ic","a":1,"x":24,"y":0.19},{"s":"ic","a":1,"x":25,"y":0},{"s":"ic","a":1,"x":28,"y":0},{"s":"ic","a":1,"x":29,"y":0.19},{"s":"ic","a":1,"x":39,"y":0.2},{"s":"ic","a":1,"x":40,"y":0},{"s":"ic","a":1,"x":53,"y":0},{"s":"ic","a":1,"x":54,"y":0.2},{"s":"ic","a":1,"x":57,"y":0.19},{"s":"ic","a":1,"x":58,"y":0},{"s":"ic","a":1,"x":69,"y":0},
      {"s":"ic","a":2,"x":0,"y":0.12},{"s":"ic","a":2,"x":3,"y":0.08},{"s":"ic","a":2,"x":9,"y":0.04},{"s":"ic","a":2,"x":12,"y":0.17},{"s":"ic","a":2,"x":24,"y":0.18},{"s":"ic","a":2,"x":25,"y":0},{"s":"ic","a":2,"x":28,"y":0},{"s":"ic","a":2,"x":29,"y":0.17},{"s":"ic","a":2,"x":39,"y":0.18},{"s":"ic","a":2,"x":40,"y":0},{"s":"ic","a":2,"x":53,"y":0},{"s":"ic","a":2,"x":54,"y":0.17},{"s":"ic","a":2,"x":57,"y":0.2},{"s":"ic","a":2,"x":58,"y":0},{"s":"ic","a":2,"x":69,"y":0},
      {"s":"ic","a":3,"x":0,"y":0.1},{"s":"ic","a":3,"x":3,"y":0.06},{"s":"ic","a":3,"x":9,"y":0.03},{"s":"ic","a":3,"x":12,"y":0.14},{"s":"ic","a":3,"x":24,"y":0.15},{"s":"ic","a":3,"x":25,"y":0},{"s":"ic","a":3,"x":28,"y":0},{"s":"ic","a":3,"x":29,"y":0.15},{"s":"ic","a":3,"x":39,"y":0.16},{"s":"ic","a":3,"x":40,"y":0},{"s":"ic","a":3,"x":53,"y":0},{"s":"ic","a":3,"x":54,"y":0.15},{"s":"ic","a":3,"x":57,"y":0.17},{"s":"ic","a":3,"x":58,"y":0},{"s":"ic","a":3,"x":69,"y":0},
      {"s":"ic","a":4,"x":0,"y":0.08},{"s":"ic","a":4,"x":3,"y":0.05},{"s":"ic","a":4,"x":9,"y":0.02},{"s":"ic","a":4,"x":12,"y":0.11},{"s":"ic","a":4,"x":24,"y":0.12},{"s":"ic","a":4,"x":25,"y":0},{"s":"ic","a":4,"x":28,"y":0},{"s":"ic","a":4,"x":29,"y":0.13},{"s":"ic","a":4,"x":39,"y":0.14},{"s":"ic","a":4,"x":40,"y":0},{"s":"ic","a":4,"x":53,"y":0},{"s":"ic","a":4,"x":54,"y":0.12},{"s":"ic","a":4,"x":57,"y":0.15},{"s":"ic","a":4,"x":58,"y":0},{"s":"ic","a":4,"x":69,"y":0},
      {"s":"ic","a":5,"x":0,"y":0.06},{"s":"ic","a":5,"x":3,"y":0.04},{"s":"ic","a":5,"x":9,"y":0.02},{"s":"ic","a":5,"x":12,"y":0.08},{"s":"ic","a":5,"x":24,"y":0.09},{"s":"ic","a":5,"x":25,"y":0},{"s":"ic","a":5,"x":28,"y":0},{"s":"ic","a":5,"x":29,"y":0.11},{"s":"ic","a":5,"x":39,"y":0.12},{"s":"ic","a":5,"x":40,"y":0},{"s":"ic","a":5,"x":53,"y":0},{"s":"ic","a":5,"x":54,"y":0.1},{"s":"ic","a":5,"x":57,"y":0.13},{"s":"ic","a":5,"x":58,"y":0},{"s":"ic","a":5,"x":69,"y":0},
      {"s":"ic","a":6,"x":0,"y":0.05},{"s":"ic","a":6,"x":3,"y":0.03},{"s":"ic","a":6,"x":9,"y":0.01},{"s":"ic","a":6,"x":12,"y":0.06},{"s":"ic","a":6,"x":24,"y":0.07},{"s":"ic","a":6,"x":25,"y":0},{"s":"ic","a":6,"x":28,"y":0},{"s":"ic","a":6,"x":29,"y":0.09},{"s":"ic","a":6,"x":39,"y":0.1},{"s":"ic","a":6,"x":40,"y":0},{"s":"ic","a":6,"x":53,"y":0},{"s":"ic","a":6,"x":54,"y":0.08},{"s":"ic","a":6,"x":57,"y":0.12},{"s":"ic","a":6,"x":58,"y":0},{"s":"ic","a":6,"x":69,"y":0},
      {"s":"ic","a":7,"x":0,"y":0.03},{"s":"ic","a":7,"x":3,"y":0.02},{"s":"ic","a":7,"x":9,"y":0.01},{"s":"ic","a":7,"x":12,"y":0.04},{"s":"ic","a":7,"x":24,"y":0.05},{"s":"ic","a":7,"x":25,"y":0},{"s":"ic","a":7,"x":28,"y":0},{"s":"ic","a":7,"x":29,"y":0.07},{"s":"ic","a":7,"x":39,"y":0.08},{"s":"ic","a":7,"x":40,"y":0},{"s":"ic","a":7,"x":53,"y":0},{"s":"ic","a":7,"x":54,"y":0.06},{"s":"ic","a":7,"x":57,"y":0.1},{"s":"ic","a":7,"x":58,"y":0},{"s":"ic","a":7,"x":69,"y":0},
      {"s":"ic","a":8,"x":0,"y":0.02},{"s":"ic","a":8,"x":3,"y":0.01},{"s":"ic","a":8,"x":9,"y":0},{"s":"ic","a":8,"x":12,"y":0.02},{"s":"ic","a":8,"x":24,"y":0.03},{"s":"ic","a":8,"x":25,"y":0},{"s":"ic","a":8,"x":28,"y":0},{"s":"ic","a":8,"x":29,"y":0.05},{"s":"ic","a":8,"x":39,"y":0.06},{"s":"ic","a":8,"x":40,"y":0},{"s":"ic","a":8,"x":53,"y":0},{"s":"ic","a":8,"x":54,"y":0.05},{"s":"ic","a":8,"x":57,"y":0.09},{"s":"ic","a":8,"x":58,"y":0},{"s":"ic","a":8,"x":69,"y":0},
      {"s":"ic","a":9,"x":0,"y":0.01},{"s":"ic","a":9,"x":3,"y":0},{"s":"ic","a":9,"x":9,"y":-0.01},{"s":"ic","a":9,"x":12,"y":0},{"s":"ic","a":9,"x":24,"y":0.01},{"s":"ic","a":9,"x":25,"y":0},{"s":"ic","a":9,"x":28,"y":0},{"s":"ic","a":9,"x":29,"y":0.03},{"s":"ic","a":9,"x":39,"y":0.04},{"s":"ic","a":9,"x":40,"y":0},{"s":"ic","a":9,"x":69,"y":0},
      {"s":"ic","a":10,"x":0,"y":-0.02},{"s":"ic","a":10,"x":3,"y":-0.01},{"s":"ic","a":10,"x":9,"y":-0.01},{"s":"ic","a":10,"x":12,"y":-0.02},{"s":"ic","a":10,"x":24,"y":-0.02},{"s":"ic","a":10,"x":25,"y":0},{"s":"ic","a":10,"x":28,"y":0},{"s":"ic","a":10,"x":29,"y":0.01},{"s":"ic","a":10,"x":39,"y":0.02},{"s":"ic","a":10,"x":40,"y":0},{"s":"ic","a":10,"x":69,"y":0},
      {"s":"ic","a":11,"x":0,"y":-0.04},{"s":"ic","a":11,"x":3,"y":-0.03},{"s":"ic","a":11,"x":9,"y":-0.02},{"s":"ic","a":11,"x":12,"y":-0.04},{"s":"ic","a":11,"x":24,"y":-0.04},{"s":"ic","a":11,"x":25,"y":0},{"s":"ic","a":11,"x":28,"y":0},{"s":"ic","a":11,"x":29,"y":-0.01},{"s":"ic","a":11,"x":39,"y":-0.01},{"s":"ic","a":11,"x":40,"y":0},{"s":"ic","a":11,"x":69,"y":0},
      {"s":"ic","a":12,"x":0,"y":-0.06},{"s":"ic","a":12,"x":3,"y":-0.04},{"s":"ic","a":12,"x":9,"y":-0.02},{"s":"ic","a":12,"x":12,"y":-0.06},{"s":"ic","a":12,"x":24,"y":-0.06},{"s":"ic","a":12,"x":25,"y":0},{"s":"ic","a":12,"x":28,"y":0},{"s":"ic","a":12,"x":29,"y":-0.04},{"s":"ic","a":12,"x":39,"y":-0.04},{"s":"ic","a":12,"x":40,"y":0},{"s":"ic","a":12,"x":69,"y":0},
      {"s":"ic","a":13,"x":0,"y":-0.08},{"s":"ic","a":13,"x":3,"y":-0.05},{"s":"ic","a":13,"x":9,"y":-0.03},{"s":"ic","a":13,"x":12,"y":-0.08},{"s":"ic","a":13,"x":24,"y":-0.08},{"s":"ic","a":13,"x":25,"y":0},{"s":"ic","a":13,"x":28,"y":0},{"s":"ic","a":13,"x":29,"y":-0.07},{"s":"ic","a":13,"x":39,"y":-0.07},{"s":"ic","a":13,"x":40,"y":0},{"s":"ic","a":13,"x":69,"y":0},
      {"s":"ic","a":14,"x":0,"y":-0.1},{"s":"ic","a":14,"x":3,"y":-0.07},{"s":"ic","a":14,"x":9,"y":-0.03},{"s":"ic","a":14,"x":12,"y":-0.1},{"s":"ic","a":14,"x":24,"y":-0.09},{"s":"ic","a":14,"x":25,"y":0},{"s":"ic","a":14,"x":28,"y":0},{"s":"ic","a":14,"x":29,"y":-0.1},{"s":"ic","a":14,"x":39,"y":-0.1},{"s":"ic","a":14,"x":40,"y":0},{"s":"ic","a":14,"x":69,"y":0},
      {"s":"ic","a":15,"x":0,"y":-0.13},{"s":"ic","a":15,"x":3,"y":-0.08},{"s":"ic","a":15,"x":9,"y":-0.04},{"s":"ic","a":15,"x":12,"y":-0.12},{"s":"ic","a":15,"x":24,"y":-0.11},{"s":"ic","a":15,"x":25,"y":0},{"s":"ic","a":15,"x":28,"y":0},{"s":"ic","a":15,"x":29,"y":-0.13},{"s":"ic","a":15,"x":39,"y":-0.13},{"s":"ic","a":15,"x":40,"y":0},{"s":"ic","a":15,"x":69,"y":0},
      {"s":"ic","a":16,"x":0,"y":-0.16},{"s":"ic","a":16,"x":3,"y":-0.09},{"s":"ic","a":16,"x":9,"y":-0.04},{"s":"ic","a":16,"x":12,"y":-0.14},{"s":"ic","a":16,"x":24,"y":-0.13},{"s":"ic","a":16,"x":25,"y":0},{"s":"ic","a":16,"x":28,"y":0},{"s":"ic","a":16,"x":29,"y":-0.15},{"s":"ic","a":16,"x":39,"y":-0.15},{"s":"ic","a":16,"x":40,"y":0},{"s":"ic","a":16,"x":69,"y":0},
      {"s":"ic","a":17,"x":0,"y":-0.2},{"s":"ic","a":17,"x":3,"y":-0.1},{"s":"ic","a":17,"x":9,"y":-0.05},{"s":"ic","a":17,"x":12,"y":-0.16},{"s":"ic","a":17,"x":24,"y":-0.15},{"s":"ic","a":17,"x":25,"y":0},{"s":"ic","a":17,"x":28,"y":0},{"s":"ic","a":17,"x":29,"y":-0.17},{"s":"ic","a":17,"x":39,"y":-0.17},{"s":"ic","a":17,"x":40,"y":0},{"s":"ic","a":17,"x":69,"y":0},
      {"s":"ic","a":18,"x":0,"y":-0.25},{"s":"ic","a":18,"x":3,"y":-0.11},{"s":"ic","a":18,"x":9,"y":-0.05},{"s":"ic","a":18,"x":12,"y":-0.17},{"s":"ic","a":18,"x":24,"y":-0.17},{"s":"ic","a":18,"x":25,"y":0},{"s":"ic","a":18,"x":28,"y":0},{"s":"ic","a":18,"x":29,"y":-0.19},{"s":"ic","a":18,"x":39,"y":-0.19},{"s":"ic","a":18,"x":40,"y":0},{"s":"ic","a":18,"x":69,"y":0},

      {"s":"ir","a":1,"x":24,"y":0},{"s":"ir","a":1,"x":25,"y":0.15},{"s":"ir","a":1,"x":28,"y":0.15},{"s":"ir","a":1,"x":29,"y":0},{"s":"ir","a":1,"x":58,"y":0},{"s":"ir","a":1,"x":59,"y":0.17},{"s":"ir","a":1,"x":64,"y":0.165},{"s":"ir","a":1,"x":69,"y":0.17},
      {"s":"ir","a":2,"x":24,"y":0},{"s":"ir","a":2,"x":25,"y":0.13},{"s":"ir","a":2,"x":28,"y":0.13},{"s":"ir","a":2,"x":29,"y":0},{"s":"ir","a":2,"x":58,"y":0},{"s":"ir","a":2,"x":59,"y":0.14},{"s":"ir","a":2,"x":64,"y":0.14},{"s":"ir","a":2,"x":69,"y":0.145},
      {"s":"ir","a":3,"x":24,"y":0},{"s":"ir","a":3,"x":25,"y":0.11},{"s":"ir","a":3,"x":28,"y":0.115},{"s":"ir","a":3,"x":29,"y":0},{"s":"ir","a":3,"x":58,"y":0},{"s":"ir","a":3,"x":59,"y":0.11},{"s":"ir","a":3,"x":64,"y":0.115},{"s":"ir","a":3,"x":69,"y":0.12},
      {"s":"ir","a":4,"x":24,"y":0},{"s":"ir","a":4,"x":25,"y":0.09},{"s":"ir","a":4,"x":28,"y":0.095},{"s":"ir","a":4,"x":29,"y":0},{"s":"ir","a":4,"x":58,"y":0},{"s":"ir","a":4,"x":59,"y":0.08},{"s":"ir","a":4,"x":64,"y":0.085},{"s":"ir","a":4,"x":69,"y":0.09},
      {"s":"ir","a":5,"x":24,"y":0},{"s":"ir","a":5,"x":25,"y":0.075},{"s":"ir","a":5,"x":28,"y":0.08},{"s":"ir","a":5,"x":29,"y":0},{"s":"ir","a":5,"x":58,"y":0},{"s":"ir","a":5,"x":59,"y":0.05},{"s":"ir","a":5,"x":64,"y":0.055},{"s":"ir","a":5,"x":69,"y":0.06},
      {"s":"ir","a":6,"x":24,"y":0},{"s":"ir","a":6,"x":25,"y":0.06},{"s":"ir","a":6,"x":28,"y":0.065},{"s":"ir","a":6,"x":29,"y":0},{"s":"ir","a":6,"x":58,"y":0},{"s":"ir","a":6,"x":59,"y":0.02},{"s":"ir","a":6,"x":64,"y":0.025},{"s":"ir","a":6,"x":69,"y":0.03},
      {"s":"ir","a":7,"x":24,"y":0},{"s":"ir","a":7,"x":25,"y":0.05},{"s":"ir","a":7,"x":28,"y":0.05},{"s":"ir","a":7,"x":29,"y":0},{"s":"ir","a":7,"x":58,"y":0},{"s":"ir","a":7,"x":59,"y":0},{"s":"ir","a":7,"x":64,"y":0},{"s":"ir","a":7,"x":69,"y":0},
      {"s":"ir","a":8,"x":24,"y":0},{"s":"ir","a":8,"x":25,"y":0.04},{"s":"ir","a":8,"x":28,"y":0.04},{"s":"ir","a":8,"x":29,"y":0},{"s":"ir","a":8,"x":58,"y":0},{"s":"ir","a":8,"x":59,"y":-0.02},{"s":"ir","a":8,"x":64,"y":-0.025},{"s":"ir","a":8,"x":69,"y":-0.02},
      {"s":"ir","a":9,"x":24,"y":0},{"s":"ir","a":9,"x":25,"y":0.035},{"s":"ir","a":9,"x":28,"y":0.035},{"s":"ir","a":9,"x":29,"y":0},{"s":"ir","a":9,"x":58,"y":0},{"s":"ir","a":9,"x":59,"y":-0.05},{"s":"ir","a":9,"x":64,"y":-0.05},{"s":"ir","a":9,"x":69,"y":-0.055},
      {"s":"ir","a":10,"x":24,"y":0},{"s":"ir","a":10,"x":25,"y":0.03},{"s":"ir","a":10,"x":28,"y":0.03},{"s":"ir","a":10,"x":29,"y":0},{"s":"ir","a":10,"x":58,"y":0},{"s":"ir","a":10,"x":59,"y":-0.08},{"s":"ir","a":10,"x":64,"y":-0.08},{"s":"ir","a":10,"x":69,"y":-0.085},
      {"s":"ir","a":11,"x":24,"y":0},{"s":"ir","a":11,"x":25,"y":0.025},{"s":"ir","a":11,"x":28,"y":0.025},{"s":"ir","a":11,"x":29,"y":0},{"s":"ir","a":11,"x":58,"y":0},{"s":"ir","a":11,"x":59,"y":-0.11},{"s":"ir","a":11,"x":64,"y":-0.105},{"s":"ir","a":11,"x":69,"y":-0.11},
      {"s":"ir","a":12,"x":24,"y":0},{"s":"ir","a":12,"x":25,"y":0.02},{"s":"ir","a":12,"x":28,"y":0.02},{"s":"ir","a":12,"x":29,"y":0},{"s":"ir","a":12,"x":58,"y":0},{"s":"ir","a":12,"x":59,"y":-0.13},{"s":"ir","a":12,"x":64,"y":-0.13},{"s":"ir","a":12,"x":69,"y":-0.135},
      {"s":"ir","a":13,"x":24,"y":0},{"s":"ir","a":13,"x":25,"y":0.02},{"s":"ir","a":13,"x":28,"y":0.02},{"s":"ir","a":13,"x":29,"y":0},{"s":"ir","a":13,"x":58,"y":0},{"s":"ir","a":13,"x":59,"y":-0.15},{"s":"ir","a":13,"x":64,"y":-0.15},{"s":"ir","a":13,"x":69,"y":-0.155},
      {"s":"ir","a":14,"x":24,"y":0},{"s":"ir","a":14,"x":25,"y":0.015},{"s":"ir","a":14,"x":28,"y":0.02},{"s":"ir","a":14,"x":29,"y":0},{"s":"ir","a":14,"x":58,"y":0},{"s":"ir","a":14,"x":59,"y":-0.17},{"s":"ir","a":14,"x":64,"y":-0.165},{"s":"ir","a":14,"x":69,"y":-0.175}
    ]
  },
  "layer": [
    {
      "data": {"name": "m"},
      "encoding": {
        "x": {"field": "x", "type": "quantitative", "scale": {"domain": [-3.45, 72.45], "nice": false, "zero": false},
          "axis": {"orient": "bottom", "values": [0, 10, 20, 30, 40, 50, 60, 70], "title": "Popularity Threshold", "labelPadding": 6, "titlePadding": 6}},
        "y": {"field": "y", "type": "quantitative", "scale": {"domain": [-0.4, 0.45], "nice": false, "zero": false},
          "axis": {"orient": "left", "values": [-0.4, -0.3, -0.2, -0.1, 0, 0.1, 0.2, 0.3, 0.4], "labelExpr": "replace(format(datum.value, '.1f'), '-', '\u2212')", "title": "Artist Values in Second Eigenvector", "labelPadding": 8, "titlePadding": 4}}
      },
      "layer": [
        {"transform": [{"filter": "datum.s == 'ir'"}], "mark": {"type": "line", "clip": true}},
        {"transform": [{"filter": "datum.s == 'ic'"}], "mark": {"type": "line", "clip": true}},
        {"transform": [{"filter": "datum.s == 'ar'"}], "mark": {"type": "line", "clip": true}},
        {"transform": [{"filter": "datum.s == 'ac'"}], "mark": {"type": "line", "clip": true}}
      ]
    },
    {
      "data": {"name": "t"},
      "encoding": {
        "x": {"field": "x", "type": "quantitative", "scale": {"domain": [-3.45, 72.45], "range": [411.2, 618.5], "nice": false, "zero": false},
          "axis": {"orient": "bottom", "offset": -40, "values": [0, 50], "title": null, "labelPadding": 6}},
        "y": {"field": "y", "type": "quantitative", "scale": {"domain": [-0.274, 0.281], "range": [362, 261.3], "nice": false, "zero": false},
          "axis": {"orient": "left", "offset": -411.2, "values": [-0.25, 0, 0.25], "labelExpr": "replace(format(datum.value, '.2f'), '-', '\u2212')", "title": null, "labelPadding": 8}}
      },
      "layer": [
        {"transform": [{"filter": "datum.s == 'ir'"}], "mark": {"type": "line", "clip": true}},
        {"transform": [{"filter": "datum.s == 'ic'"}], "mark": {"type": "line", "clip": true}},
        {"transform": [{"filter": "datum.s == 'ar'"}], "mark": {"type": "line", "clip": true}},
        {"transform": [{"filter": "datum.s == 'ac'"}], "mark": {"type": "line", "clip": true}}
      ]
    },
    {
      "data": {"name": "t"},
      "mark": {"type": "point"},
      "encoding": {
        "x": {"field": "x", "type": "quantitative", "scale": {"domain": [-3.45, 72.45], "range": [411.2, 618.5], "nice": false, "zero": false},
          "axis": {"orient": "top", "offset": -261.3, "ticks": false, "labels": false, "title": "Third Eigenvector", "titleFontSize": 21.5, "titlePadding": 9}},
        "y": {"field": "y", "type": "quantitative", "scale": {"domain": [-0.274, 0.281], "range": [362, 261.3], "nice": false, "zero": false},
          "axis": {"orient": "right", "offset": -67.5, "ticks": false, "labels": false, "title": null}},
        "opacity": {"value": 0}
      }
    }
  ]
}
